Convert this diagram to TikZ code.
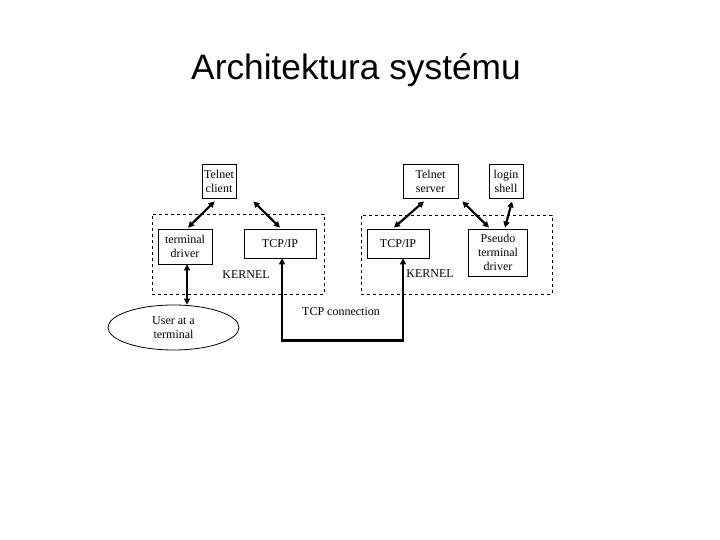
\documentclass[tikz,border=0pt]{standalone}
\usepackage{fontspec}
\setmainfont{Liberation Serif}
\newfontfamily\titlefont{Liberation Sans}
\usetikzlibrary{arrows.meta,calc,shapes.geometric}
\tikzset{
  box/.style={draw,line width=0.8pt,inner sep=0pt,align=center,font=\fontsize{12}{14}\selectfont},
  kernelbox/.style={draw,dashed,line width=0.8pt},
  lbl/.style={inner sep=0pt,font=\fontsize{12}{14}\selectfont},
  link/.style={line width=2.2pt,{Triangle[length=6pt,width=6pt]}-{Triangle[length=6pt,width=6pt]}},
}
\begin{document}
\begin{tikzpicture}[x=1pt,y=-1pt]
\useasboundingbox (0,0) rectangle (720,540);
\node[inner sep=0pt,font=\titlefont\fontsize{35.3}{40}\selectfont] (title) at (356,70) {Architektura systému};
% kernels
\node[kernelbox,minimum width=172pt,minimum height=80pt] (kL) at (238,254) {};
\node[kernelbox,minimum width=191pt,minimum height=79pt] (kR) at (456.5,254.5) {};
% boxes
\node[box,fill=white,minimum width=34pt,minimum height=34pt] (tc) at (219,181) {Telnet\\client};
\node[box,fill=white,minimum width=55pt,minimum height=34pt] (ts) at (430.5,181) {Telnet\\server};
\node[box,fill=white,minimum width=34pt,minimum height=34pt] (ls) at (506,181) {login\\shell};
\node[box,fill=white,minimum width=54pt,minimum height=35pt] (td) at (185,246.5) {terminal\\driver};
\node[box,fill=white,minimum width=72pt,minimum height=29pt] (tcpL) at (280,243.5) {TCP/IP};
\node[box,fill=white,minimum width=62pt,minimum height=29pt] (tcpR) at (398,243.5) {TCP/IP};
\node[box,fill=white,minimum width=59pt,minimum height=47pt] (ptd) at (498,252.5) {Pseudo\\terminal\\driver};
\node[draw,ellipse,line width=0.8pt,minimum width=131pt,minimum height=45pt,inner sep=0pt,align=center,font=\fontsize{12}{14}\selectfont] (user) at (173.5,327.5) {User at a\\terminal};
% labels
\node[lbl] (kLt) at (246,275) {KERNEL};
\node[lbl] (kRt) at (430,274) {KERNEL};
\node[lbl] (tcpt) at (341,312) {TCP connection};
% connectors
\draw[link] ($(tc.south west)+(13,3)$) -- ($(td.north)+(3,-1)$);
\draw[link] ($(tc.south east)+(17,3)$) -- ($(tcpL.north)+(0,-1)$);
\draw[link] ($(ts.south)+(-6.5,3)$) -- ($(tcpR.north)+(-4,-1)$);
\draw[link] ($(ts.south east)+(4,3)$) -- ($(ptd.north)+(-9,-1)$);
\draw[link] ($(ls.south)+(6,3)$) -- ($(ptd.north)+(7,-1)$);
\draw[link] ($(td.south)+(2,0)$) -- ($(user.north)+(13.5,0)$);
\draw[link] ($(tcpL.south)+(2,0)$) -- ++(0,82) -| ($(tcpR.south)+(5,0)$);
\end{tikzpicture}
\end{document}
